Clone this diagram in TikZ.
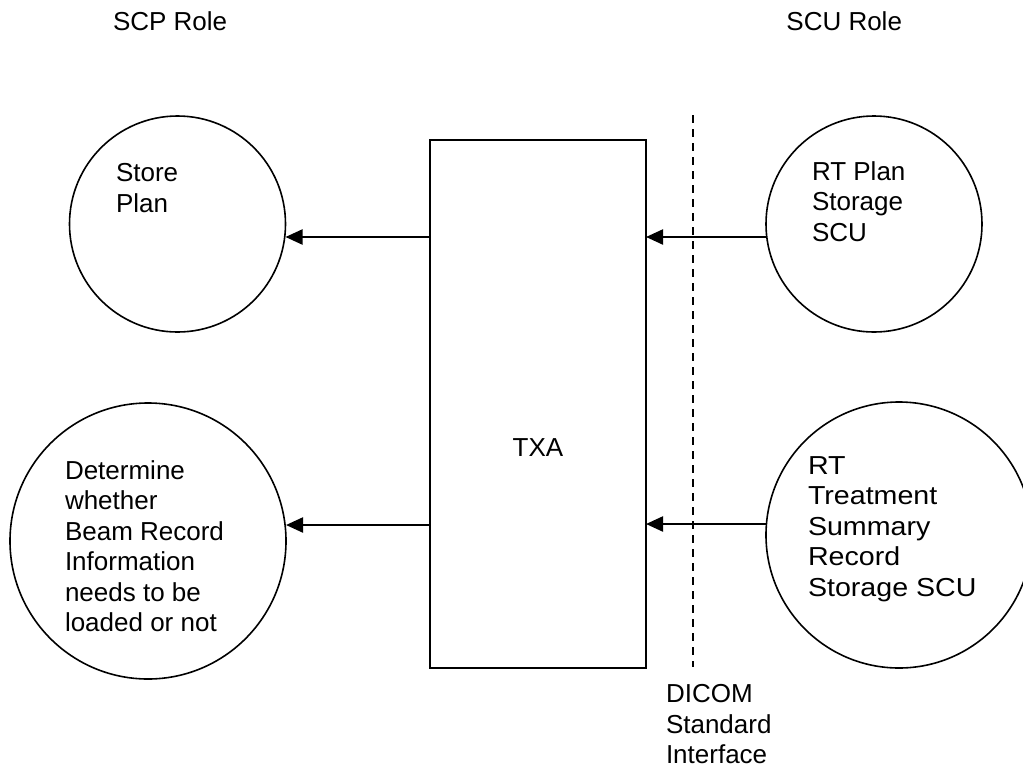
\documentclass[tikz,border=0pt]{standalone}
\usepackage{fontspec}
\setmainfont{Liberation Sans}
\usetikzlibrary{arrows.meta}
\begin{document}
\begin{tikzpicture}[x=1pt,y=-1pt,
  every node/.style={inner sep=0pt, outer sep=0pt},
  bubble/.style={draw, circle, line width=1.6pt, minimum size=#1},
  box/.style={draw, rectangle, line width=1.6pt},
  lbl/.style={font=\fontsize{26}{30.5}\selectfont},
  arr/.style={line width=2.2pt, -{Triangle[length=17pt,width=15pt]}},
  iface/.style={line width=2pt, dash pattern=on 7.5pt off 6.5pt}]
\useasboundingbox (0,0) rectangle (1023,772);
\clip (0,0) rectangle (1023,772);

% role headings
\node[lbl, anchor=base west] (scp) at (113,30.7) {SCP Role};
\node[lbl, anchor=base east] (scu) at (902,30) {SCU Role};

% circles
\node[bubble=216pt] (store) at (177.5,224) {};
\node[bubble=276pt] (determine) at (148,541) {};
\node[bubble=216pt] (rtplan) at (874,224) {};
\node[bubble=266pt] (rtsum) at (899,535) {};

% circle texts
\node[lbl, anchor=base west] (storetxt) at (116,181.5)
  {\begin{tabular}[t]{@{}l@{}}Store\\Plan\end{tabular}};
\node[lbl, anchor=base west] (dettxt) at (65,479.3)
  {\begin{tabular}[t]{@{}l@{}}Determine\\whether\\Beam Record\\Information\\needs to be\\loaded or not\end{tabular}};
\node[lbl, anchor=base west] (rtplantxt) at (812,180)
  {\begin{tabular}[t]{@{}l@{}}RT Plan\\Storage\\SCU\end{tabular}};
\node[lbl, anchor=base west] (rtsumtxt) at (808,474.3)
  {\scalebox{1.1}[1]{\begin{tabular}[t]{@{}l@{}}RT\\Treatment\\Summary\\Record\\Storage SCU\end{tabular}}};

% TXA box
\node[box, minimum width=216pt, minimum height=528pt] (txa) at (538,404) {};
\node[lbl, anchor=base] (txatxt) at (538,456) {TXA};

% DICOM interface
\coordinate (dtop) at (693,115);
\coordinate (dbot) at (693,667);
\draw[iface] (dtop) -- (dbot);
\node[lbl, anchor=base west] (dicom) at (666,702.7)
  {\begin{tabular}[t]{@{}l@{}}DICOM\\Standard\\Interface\end{tabular}};

% connectors
\coordinate (ya) at (0,237);
\coordinate (yb) at (0,525);
\coordinate (yc) at (0,524);
\draw[arr] (ya -| txa.west) -- (ya -| store.east);
\draw[arr] (yb -| txa.west) -- (yb -| determine.east);
\draw[arr] (ya -| rtplan.west) -- (ya -| txa.east);
\draw[arr] (yc -| rtsum.west) -- (yc -| txa.east);
\end{tikzpicture}
\end{document}
